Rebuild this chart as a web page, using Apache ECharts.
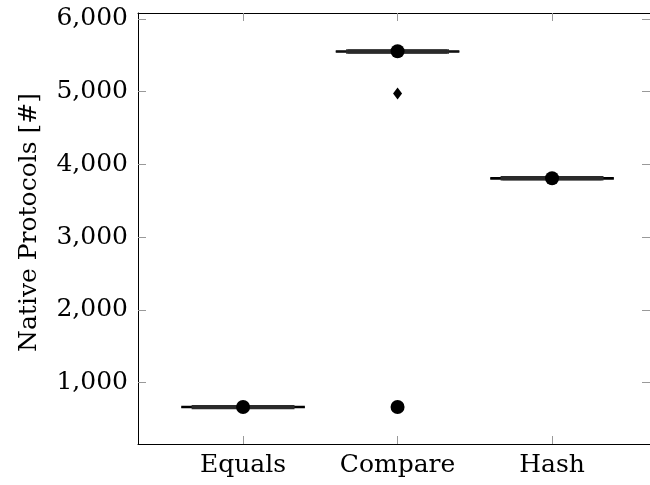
<!DOCTYPE html>
<html>
<head>
    <meta charset="utf-8">
    <title>Native Protocols</title>
    <script src="https://cdn.jsdelivr.net/npm/echarts@6/dist/echarts.min.js"></script>
    <style>
        html, body { margin: 0; padding: 0; background: #fff; }
        #chart { width: 650px; height: 485px; }
    </style>
</head>
<body>
<div id="chart"></div>
<script type="text/javascript">
    // categories and box statistics (very flat boxes)
    var categories = ['Equals', 'Compare', 'Hash'];
    var whiskerLow = [655, 5545, 3800];
    var lowerQuartile = [660, 5550, 3806];
    var median = [662, 5553, 3809];
    var upperQuartile = [664, 5556, 3812];
    var whiskerHigh = [668, 5560, 3816];
    // filled circles (outliers) as [category index, value]
    var outliers = [[0, 662], [1, 5555], [1, 662], [2, 3809]];
    // diamond mark
    var diamonds = [[1, 4975]];
    var yTicks = [1000, 2000, 3000, 4000, 5000, 6000];

    var font = 'DejaVu Serif';
    var fsize = 25;

    var boxData = categories.map(function (c, i) {
        return [i, whiskerLow[i], lowerQuartile[i], median[i], upperQuartile[i], whiskerHigh[i]];
    });

    function renderBox(params, api) {
        var x = api.value(0);
        var lo = api.value(1), q1 = api.value(2), med = api.value(3), q3 = api.value(4), hi = api.value(5);
        var wl = api.coord([x - 0.4, lo]), wr = api.coord([x + 0.4, lo]);
        var hl = api.coord([x - 0.4, hi]), hr = api.coord([x + 0.4, hi]);
        var c1 = api.coord([x, lo]), c2 = api.coord([x, q1]);
        var c3 = api.coord([x, q3]), c4 = api.coord([x, hi]);
        var bl = api.coord([x - 0.32, q3]), br = api.coord([x + 0.32, q1]);
        var ml = api.coord([x - 0.32, med]), mr = api.coord([x + 0.32, med]);
        var thin = { stroke: '#000', lineWidth: 1.6 };
        var thick = { stroke: '#2a2a2a', lineWidth: 4, fill: 'none' };
        return {
            type: 'group',
            children: [
                { type: 'line', shape: { x1: wl[0], y1: wl[1], x2: wr[0], y2: wr[1] }, style: thin },
                { type: 'line', shape: { x1: hl[0], y1: hl[1], x2: hr[0], y2: hr[1] }, style: thin },
                { type: 'line', shape: { x1: c1[0], y1: c1[1], x2: c2[0], y2: c2[1] }, style: thin },
                { type: 'line', shape: { x1: c3[0], y1: c3[1], x2: c4[0], y2: c4[1] }, style: thin },
                { type: 'rect', shape: { x: bl[0], y: bl[1], width: br[0] - bl[0], height: br[1] - bl[1] }, style: thick },
                { type: 'line', shape: { x1: ml[0], y1: ml[1], x2: mr[0], y2: mr[1] }, style: thick }
            ]
        };
    }

    var myChart = echarts.init(document.getElementById('chart'), null, { renderer: 'canvas' });

    var tickStyle = { show: true, inside: true, length: 8, lineStyle: { color: '#999', width: 1 } };
    var xTickVals = [0, 1, 2];
    var xMin = -0.68, xMax = 2.634;

    option = {
        animation: false,
        grid: { left: 138, right: 0, top: 13, bottom: 41, containLabel: false },
        xAxis: [
            {
                type: 'value', min: xMin, max: xMax,
                axisLine: { show: true, onZero: false, lineStyle: { color: '#000', width: 1 } },
                axisTick: Object.assign({ customValues: xTickVals }, tickStyle),
                axisLabel: {
                    customValues: xTickVals, margin: 9,
                    fontFamily: font, fontSize: fsize, color: '#000',
                    formatter: function (v) { return categories[Math.round(v)]; }
                },
                splitLine: { show: false }
            },
            {
                type: 'value', position: 'top', min: xMin, max: xMax,
                axisLine: { show: true, onZero: false, lineStyle: { color: '#000', width: 1 } },
                axisTick: Object.assign({ customValues: xTickVals }, tickStyle),
                axisLabel: { show: false },
                splitLine: { show: false }
            }
        ],
        yAxis: [
            {
                type: 'value', min: 154, max: 6082,
                name: 'Native Protocols [#]', nameLocation: 'middle', nameGap: 96,
                nameTextStyle: { fontFamily: font, fontSize: fsize, color: '#000', padding: [0, 0, 0, 12] },
                axisLine: { show: true, onZero: false, lineStyle: { color: '#000', width: 1 } },
                axisTick: Object.assign({ customValues: yTicks }, tickStyle),
                axisLabel: {
                    customValues: yTicks, margin: 10,
                    fontFamily: font, fontSize: fsize, color: '#000',
                    formatter: function (v) { return v.toLocaleString('en-US'); }
                },
                splitLine: { show: false }
            },
            {
                type: 'value', position: 'right', min: 154, max: 6082,
                axisLine: { show: false, onZero: false },
                axisTick: Object.assign({ customValues: yTicks }, tickStyle),
                axisLabel: { show: false },
                splitLine: { show: false }
            }
        ],
        series: [
            {
                name: 'box', type: 'custom', renderItem: renderBox,
                encode: { x: 0, y: [1, 2, 3, 4, 5] },
                data: boxData, z: 2
            },
            {
                name: 'outliers', type: 'scatter', symbol: 'circle', symbolSize: 14,
                itemStyle: { color: '#000', opacity: 1 },
                data: outliers, z: 3
            },
            {
                name: 'diamond', type: 'scatter', symbol: 'diamond', symbolSize: [9, 12],
                itemStyle: { color: '#000', opacity: 1 },
                data: diamonds, z: 3
            }
        ]
    };

    myChart.setOption(option);
</script>
</body>
</html>
